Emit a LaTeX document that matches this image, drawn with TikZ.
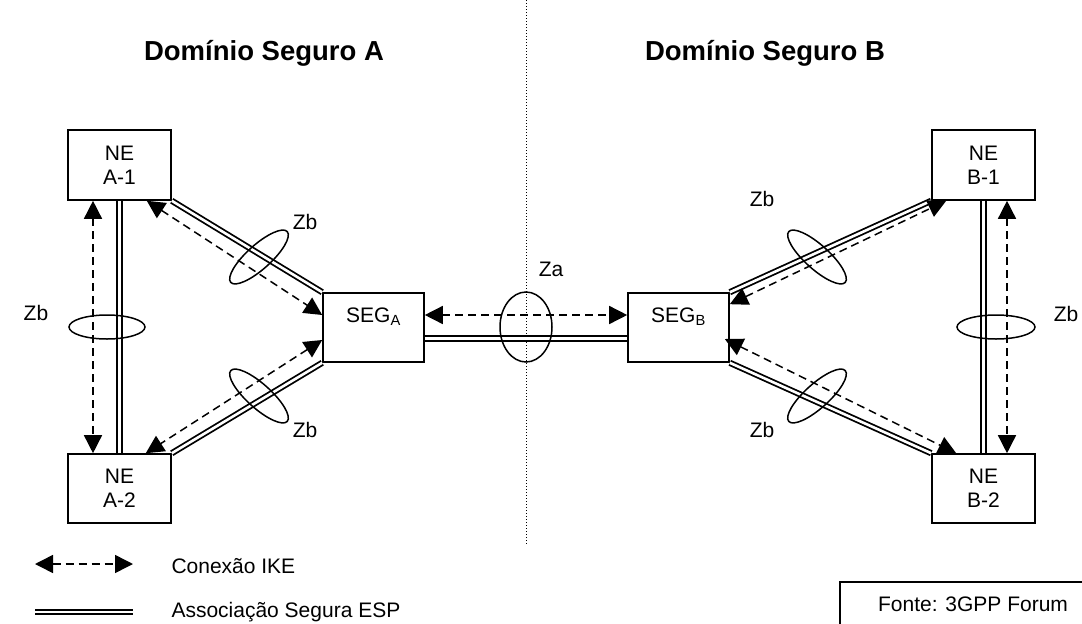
\documentclass[tikz,border=0pt]{standalone}
\usepackage{fontspec}
\setmainfont{Liberation Sans}
\usetikzlibrary{arrows.meta,calc}
\begin{document}
\begin{tikzpicture}[x=1pt,y=-1pt,
  every node/.style={font=\fontsize{21}{24}\selectfont},
  nebox/.style={draw, line width=1.6pt, minimum width=103pt, minimum height=70pt, inner sep=0pt, align=center},
  segbox/.style={draw, line width=1.6pt, minimum width=101pt, minimum height=69pt, inner sep=0pt, text height=15pt, text depth=25pt},
  esp/.style={double, double distance=2.6pt, line width=1.8pt},
  ike/.style={line width=1.5pt, dash pattern=on 8pt off 5pt, <->, >={Triangle[length=18pt,width=18pt]}},
  zring/.style={line width=1.5pt},
  titletext/.style={font=\fontsize{27.5}{30}\selectfont\bfseries},
  divider/.style={line width=1pt, dash pattern=on 1pt off 2pt}
]
\clip (0,0) rectangle (1082,624);
\useasboundingbox (0,0) rectangle (1082,624);

% divider
\coordinate (dtop) at (526,0);
\coordinate (dbot) at (526,545);
\draw[divider] (dtop) -- (dbot);

% titles
\node[titletext] (tA) at (264,53) {Domínio Seguro A};
\node[titletext] (tB) at (765,53) {Domínio Seguro B};

% boxes
\node[nebox] (A1) at (119.5,165) {NE\\A-1};
\node[nebox, minimum height=69pt] (A2) at (119.5,488.5) {NE\\A-2};
\node[nebox] (B1) at (983.5,165) {NE\\B-1};
\node[nebox, minimum height=69pt] (B2) at (983.5,488.5) {NE\\B-2};
\node[segbox] (SA) at (373.5,327.5) {SEG\textsubscript{A}};
\node[segbox] (SB) at (678.5,327.5) {SEG\textsubscript{B}};

% ESP associations
\draw[esp] (A1.south) -- (A2.north);
\draw[esp] (A1.south east) -- (SA.north west);
\draw[esp] (A2.north east) -- (SA.south west);
\draw[esp] ([yshift=-11pt]SA.east) -- ([yshift=-11pt]SB.west);
\draw[esp] (SB.north east) -- (B1.south west);
\draw[esp] (SB.south east) -- (B2.north west);
\draw[esp] (B1.south) -- (B2.north);

% IKE connections
\draw[ike] ([xshift=-26.5pt]A1.south) -- ([xshift=-26.5pt]A2.north);
\draw[ike] ([xshift=-25pt]A1.south east) -- ([yshift=12.5pt]SA.west);
\draw[ike] ([yshift=-12.5pt]SA.west) -- ([xshift=-26pt]A2.north east);
\draw[ike] ([yshift=12.5pt]SA.east) -- ([yshift=12.5pt]SB.west);
\draw[ike] ([yshift=-12pt]SB.north east) -- ([xshift=15pt]B1.south west);
\draw[ike] ([xshift=-5pt,yshift=-11.5pt]SB.east) -- ([xshift=25pt]B2.north west);
\draw[ike] ([xshift=23.5pt]B1.south) -- ([xshift=23.5pt]B2.north);

% rings
\draw[zring] (107,327) ellipse [x radius=38, y radius=12];
\draw[zring, rotate around={42:(259,257)}] (259,257) ellipse [x radius=38, y radius=12];
\draw[zring, rotate around={-42:(259,396)}] (259,396) ellipse [x radius=38, y radius=12];
\draw[zring] (526,327) ellipse [x radius=26, y radius=35];
\draw[zring, rotate around={-42:(817,257)}] (817,257) ellipse [x radius=38, y radius=12];
\draw[zring, rotate around={42:(817,396)}] (817,396) ellipse [x radius=38, y radius=12];
\draw[zring] (996,327) ellipse [x radius=39, y radius=12];

% labels
\node (zbL) at (36,313) {Zb};
\node (zbAu) at (305,222) {Zb};
\node (zbAl) at (305,430) {Zb};
\node (za) at (551,269) {Za};
\node (zbBu) at (762,199) {Zb};
\node (zbBl) at (762,430) {Zb};
\node (zbR) at (1066,314) {Zb};

% legend
\coordinate (l1) at (35,564);
\coordinate (l2) at (133,564);
\draw[ike] (l1) -- (l2);
\node[anchor=west] (lt1) at (168,566) {Conexão IKE};
\coordinate (e1) at (35,612);
\coordinate (e2) at (133,612);
\draw[esp] (e1) -- (e2);
\node[anchor=west] (lt2) at (168,612) {Associação Segura ESP};

% source
\node[draw, line width=1.6pt, minimum width=266pt, minimum height=44pt, inner sep=0pt] (fonte) at (973,604) {Fonte: 3GPP Forum};
\end{tikzpicture}
\end{document}
